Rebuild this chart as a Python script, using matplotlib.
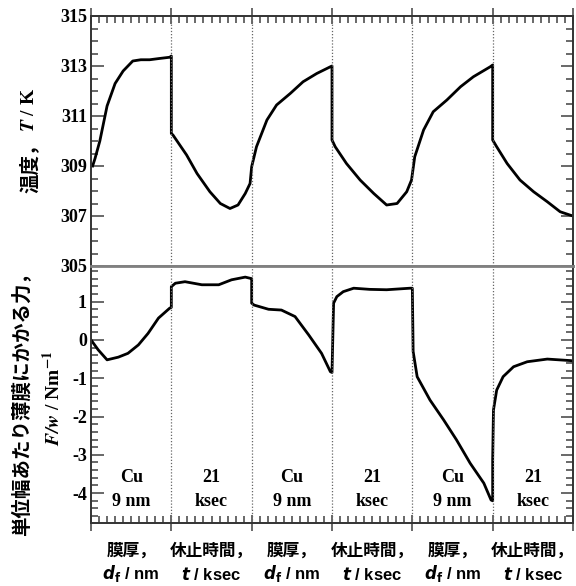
import matplotlib
matplotlib.use("Agg")
import matplotlib.pyplot as plt
from matplotlib.ticker import MultipleLocator

plt.rcParams['axes.unicode_minus'] = False

# === DATA (x in segment units: 0-1 Cu 9 nm, 1-2 rest 21 ksec, ...) ===
seg_top = ["Cu", "21", "Cu", "21", "Cu", "21"]
seg_bot = ["9 nm", "ksec", "9 nm", "ksec", "9 nm", "ksec"]
xlab_line1 = ["膜厚，", "休止時間，", "膜厚，", "休止時間，", "膜厚，", "休止時間，"]
xlab_line2 = [r"$\mathbfit{d}_\mathbf{f}$ / nm", r"$\mathbfit{t}$ / ksec"] * 3
boundaries = [1, 2, 3, 4, 5]

temp_x = [0.02, 0.05, 0.11, 0.2, 0.3, 0.4, 0.52, 0.62, 0.73, 0.85, 0.98, 1.0,
          1.0, 1.02, 1.19, 1.32, 1.48, 1.61, 1.73, 1.83, 1.92, 1.98,
          2.0, 2.06, 2.19, 2.31, 2.48, 2.64, 2.81, 2.98, 3.0,
          3.0, 3.04, 3.18, 3.35, 3.52, 3.68, 3.81, 3.93, 3.99,
          4.03, 4.14, 4.26, 4.43, 4.6, 4.76, 4.97, 5.0,
          5.0, 5.05, 5.18, 5.34, 5.51, 5.68, 5.84, 5.96, 6.0]
temp_y = [309.0, 309.3, 310.0, 311.4, 312.3, 312.8, 313.2, 313.25, 313.25, 313.3, 313.35, 313.4,
          310.3, 310.24, 309.44, 308.7, 307.97, 307.5, 307.3, 307.44, 307.9, 308.3,
          308.97, 309.77, 310.84, 311.44, 311.9, 312.37, 312.7, 312.97, 313.0,
          310.04, 309.77, 309.1, 308.44, 307.9, 307.44, 307.5, 307.97, 308.44,
          309.37, 310.44, 311.17, 311.64, 312.17, 312.57, 312.97, 313.04,
          310.04, 309.77, 309.1, 308.44, 307.97, 307.57, 307.17, 307.04, 307.0]

force_x = [0.0, 0.09, 0.2, 0.34, 0.46, 0.59, 0.71, 0.84, 0.98, 1.0,
           1.0, 1.05, 1.17, 1.38, 1.59, 1.75, 1.92, 1.98, 2.0,
           2.0, 2.03, 2.21, 2.37, 2.54, 2.71, 2.87, 2.98, 3.0,
           3.02, 3.06, 3.14, 3.27, 3.47, 3.68, 3.97, 4.0,
           4.01, 4.06, 4.22, 4.39, 4.55, 4.72, 4.89, 4.98, 5.0,
           5.0, 5.01, 5.05, 5.13, 5.26, 5.43, 5.68, 5.97, 6.0]
force_y = [0.0, -0.26, -0.52, -0.45, -0.35, -0.13, 0.17, 0.57, 0.83, 0.85,
           1.39, 1.48, 1.52, 1.44, 1.44, 1.57, 1.64, 1.61, 1.6,
           0.96, 0.91, 0.80, 0.78, 0.61, 0.13, -0.35, -0.83, -0.85,
           0.96, 1.13, 1.26, 1.35, 1.32, 1.31, 1.35, 1.35,
           -0.3, -0.96, -1.57, -2.09, -2.61, -3.22, -3.74, -4.18, -4.2,
           -3.13, -1.83, -1.31, -0.96, -0.70, -0.57, -0.50, -0.54, -0.55]

temp_ticks = [305, 307, 309, 311, 313, 315]
force_ticks = [-4, -3, -2, -1, 0, 1]

# === FIGURE ===
W, H = 576, 586
fig = plt.figure(figsize=(W / 100, H / 100), dpi=100)
ax1 = fig.add_axes([91 / W, 1 - 266 / H, 482 / W, 250 / H])
ax2 = fig.add_axes([91 / W, 1 - 523 / H, 482 / W, 257 / H])

serif = dict(family="Liberation Serif", fontweight="bold")

ax1.plot(temp_x, temp_y, color="black", lw=2.0)
ax2.plot(force_x, force_y, color="black", lw=2.0)

ax1.set_xlim(0, 6)
ax1.set_ylim(305, 315)
ax2.set_xlim(0, 6)
ax2.set_ylim(-4.78, 1.93)

for ax in (ax1, ax2):
    for b in boundaries:
        ax.axvline(b, ls=(0, (1, 1.5)), color="0.4", lw=0.9)
    for sp in ax.spines.values():
        sp.set_linewidth(1.4)
        sp.set_color("0.2")
    ax.xaxis.set_major_locator(MultipleLocator(1))
    ax.xaxis.set_minor_locator(MultipleLocator(0.1))
    ax.tick_params(axis="both", which="both", direction="in", width=1.1, color="0.25")
    ax.tick_params(axis="y", which="both", left=True, right=True)
    ax.tick_params(axis="y", which="major", length=9)
    ax.tick_params(axis="y", which="minor", length=5)
    ax.tick_params(axis="x", which="major", direction="inout", length=12)
    ax.tick_params(axis="x", which="minor", length=5)
    ax.set_xticklabels([])

ax1.spines["bottom"].set_color("0.5")
ax1.spines["bottom"].set_linewidth(2.0)
ax2.spines["top"].set_color("0.5")
ax2.spines["top"].set_linewidth(2.0)

ax1.tick_params(axis="x", which="both", top=True, bottom=False)
ax2.tick_params(axis="x", which="both", top=False, bottom=True)

ax1.set_yticks(temp_ticks)
ax1.yaxis.set_minor_locator(MultipleLocator(0.5))
ax2.set_yticks(force_ticks)
ax2.yaxis.set_minor_locator(MultipleLocator(0.2))
for ax in (ax1, ax2):
    ax.set_yticklabels([str(t) for t in ax.get_yticks()], fontsize=13, **serif)
    ax.tick_params(axis="y", pad=3)

# labels inside the bottom panel
for i in range(6):
    ax2.text(i + 0.5, -3.58, seg_top[i], ha="center", va="center", fontsize=13, **serif)
    ax2.text(i + 0.5, -4.22, seg_bot[i], ha="center", va="center", fontsize=13, **serif)

# x labels below the chart
for i in range(6):
    xc = (91 + 482 * (i + 0.5) / 6) / W
    fig.text(xc, 1 - 551 / H, xlab_line1[i], ha="center", va="center",
             family="Noto Sans CJK JP", fontweight="bold", fontsize=12)
    fig.text(xc, 1 - 574 / H, xlab_line2[i], ha="center", va="center",
             family="Liberation Sans", fontweight="bold", fontsize=12,
             math_fontfamily="dejavusans")

# y labels
fig.text(30 / W, 1 - 164 / H, "温度，", rotation=90, ha="center", va="center",
         family="Noto Sans CJK JP", fontweight="bold", fontsize=14)
fig.text(30 / W, 1 - 110 / H, r"$\mathbfit{T}$ / K", rotation=90, ha="center", va="center",
         fontsize=14, math_fontfamily="stix", **serif)
fig.text(21 / W, 1 - 400 / H, "単位幅あたり薄膜にかかる力，", rotation=90, ha="center", va="center",
         family="Noto Sans CJK JP", fontweight="bold", fontsize=14)
fig.text(53 / W, 1 - 398 / H, r"$\mathbfit{F/w}$ / Nm$^{\mathbf{-1}}$", rotation=90,
         ha="center", va="center", fontsize=14, math_fontfamily="stix", **serif)

plt.savefig("out.png", dpi=100)
